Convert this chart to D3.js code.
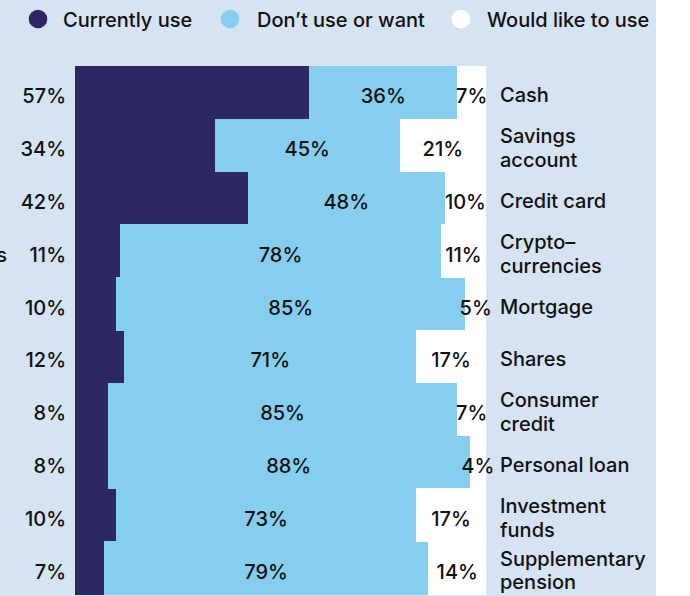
<!DOCTYPE html>
<html>
<head>
<meta charset="utf-8">
<script src="https://cdn.jsdelivr.net/npm/d3@7/dist/d3.min.js"></script>
<style>
  html, body { margin: 0; padding: 0; background: #ffffff; }
  svg { display: block; }
  text { font-family: Inter, "Noto Sans", sans-serif; font-weight: 500; fill: #111111; }
</style>
</head>
<body>
<svg id="chart" width="690" height="596"></svg>
<script>
// Financial products: share of respondents who currently use, don't use/want, or would like to use
const categories = [
  ["Cash"],
  ["Savings", "account"],
  ["Credit card"],
  ["Crypto–", "currencies"],
  ["Mortgage"],
  ["Shares"],
  ["Consumer", "credit"],
  ["Personal loan"],
  ["Investment", "funds"],
  ["Supplementary", "pension"]
];
const currentlyUse   = [57, 34, 42, 11, 10, 12, 8, 8, 10, 7];
const dontUseOrWant  = [36, 45, 48, 78, 85, 71, 85, 88, 73, 79];
const wouldLikeToUse = [7, 21, 10, 11, 5, 17, 7, 4, 17, 14];

const seriesNames  = ["Currently use", "Don’t use or want", "Would like to use"];
const seriesColors = ["#2e2862", "#85ceed", "#ffffff"];

const svg = d3.select("#chart");
const W = 690, H = 596;

// panel background
svg.append("rect").attr("x", 0).attr("y", 0).attr("width", 656).attr("height", H).attr("fill", "#d6e3f3");

const keys = categories.map(c => c.join(" "));
const rows = keys.map((k, i) => ({
  key: k,
  lines: categories[i],
  "Currently use": currentlyUse[i],
  "Don’t use or want": dontUseOrWant[i],
  "Would like to use": wouldLikeToUse[i]
}));

const x = d3.scaleLinear().domain([0, 100]).range([75, 486]);
const y = d3.scaleBand().domain(keys).range([66, 594]).padding(0);
const color = d3.scaleOrdinal().domain(seriesNames).range(seriesColors);

const stacked = d3.stack().keys(seriesNames)(rows);

// stacked segments
const layers = svg.append("g").selectAll("g")
  .data(stacked).join("g")
  .attr("fill", d => color(d.key));

layers.selectAll("rect")
  .data(d => d.map(s => ({ s, key: d.key })))
  .join("rect")
  .attr("x", d => x(d.s[0]))
  .attr("y", d => y(d.s.data.key))
  .attr("width", d => x(d.s[1]) - x(d.s[0]))
  .attr("height", y.bandwidth() + 0.5)
  .attr("shape-rendering", "crispEdges");

const fs = 20;
const baseOff = 11;

// "Currently use" values to the left of the bars
svg.append("g").selectAll("text")
  .data(rows).join("text")
  .attr("x", 66)
  .attr("y", d => y(d.key) + y.bandwidth() / 2 + baseOff)
  .attr("text-anchor", "end")
  .attr("font-size", fs)
  .text(d => d["Currently use"] + "%");

// values centred in the other two segments
[1, 2].forEach(li => {
  svg.append("g").selectAll("text")
    .data(stacked[li]).join("text")
    .attr("x", d => (x(d[0]) + x(d[1])) / 2)
    .attr("y", d => y(d.data.key) + y.bandwidth() / 2 + baseOff)
    .attr("text-anchor", "middle")
    .attr("font-size", fs)
    .text(d => (d[1] - d[0]) + "%");
});

// category labels on the right
const lineH = 23.5;
const catLabels = svg.append("g").selectAll("text")
  .data(rows).join("text")
  .attr("font-size", fs)
  .attr("x", 500)
  .attr("y", d => y(d.key) + y.bandwidth() / 2 + baseOff - (d.lines.length - 1) * lineH / 2 - 1);
catLabels.selectAll("tspan")
  .data(d => d.lines).join("tspan")
  .attr("x", 500)
  .attr("dy", (d, i) => i === 0 ? 0 : lineH)
  .text(d => d);

// trailing letter of a neighbouring label at the left edge
svg.append("text").attr("x", 7).attr("y", 262).attr("text-anchor", "end")
  .attr("font-size", fs).text("s");

// legend
const legendItems = [
  { name: seriesNames[0], cx: 38, tx: 63 },
  { name: seriesNames[1], cx: 230, tx: 257 },
  { name: seriesNames[2], cx: 461, tx: 487 }
];
const lg = svg.append("g").selectAll("g").data(legendItems).join("g");
lg.append("circle").attr("cx", d => d.cx).attr("cy", 19).attr("r", 9.3).attr("fill", d => color(d.name));
lg.append("text").attr("x", d => d.tx).attr("y", 27).attr("font-size", fs).text(d => d.name);
</script>
</body>
</html>
